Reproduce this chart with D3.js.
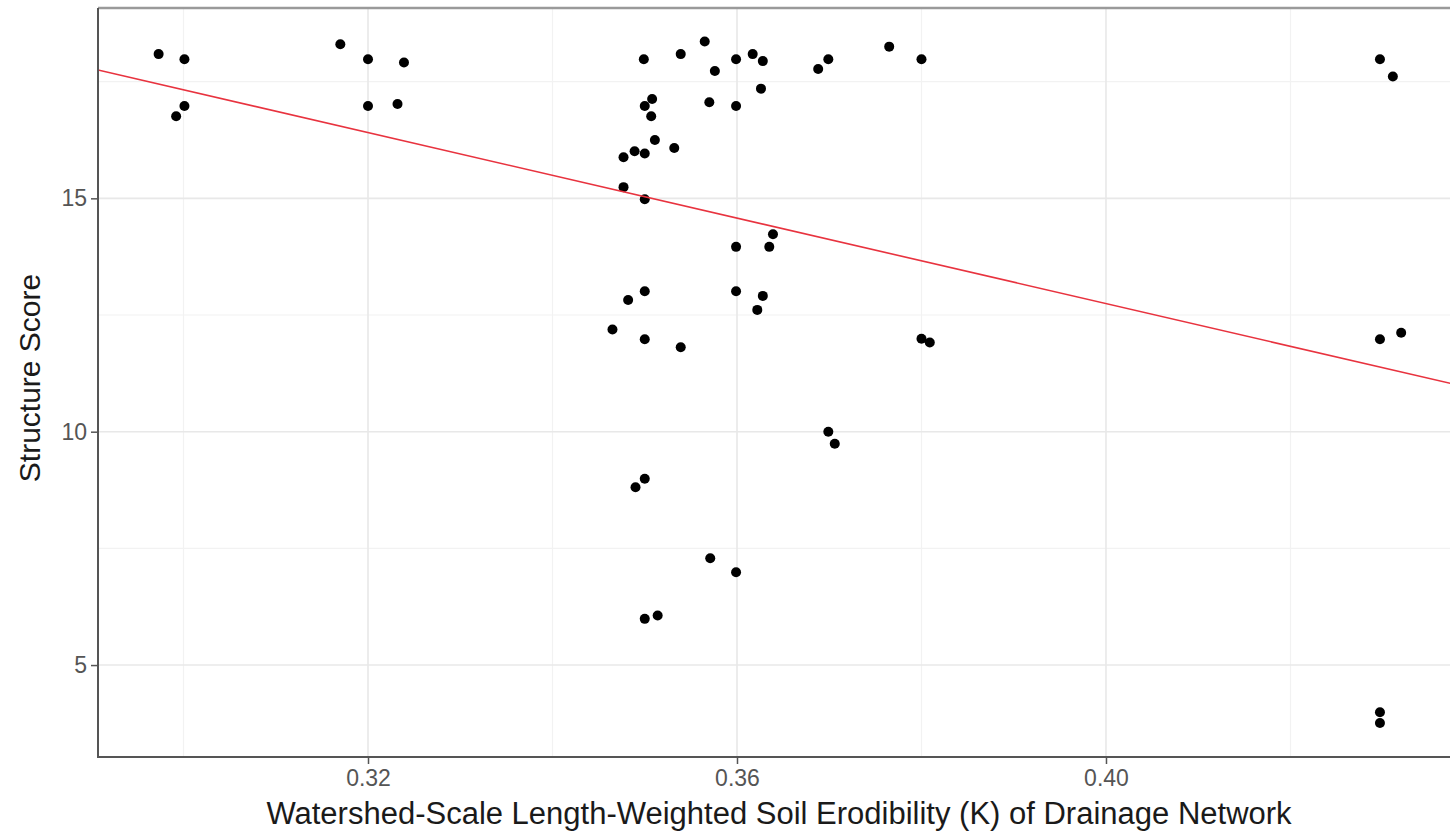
<!DOCTYPE html>
<html>
<head>
<meta charset="utf-8">
<script src="https://cdn.jsdelivr.net/npm/d3@7"></script>
<style>
    body { margin: 0; background: #ffffff; overflow: hidden; }
    .tick text { font-family: "Liberation Sans", Arial, sans-serif; }
</style>
</head>
<body>
<div id="chart"></div>
<script>
// erodibility (K)
const kValues = [
    0.2973, 0.3001, 0.3001, 0.2992, 0.3170, 0.3200, 0.3239, 0.3200, 0.3232,
    0.3499, 0.3539, 0.3565, 0.3576, 0.3599, 0.3617, 0.3628, 0.3626, 0.3688,
    0.3699, 0.3765, 0.3800, 0.4297, 0.4311, 0.3508, 0.3500, 0.3507, 0.3570,
    0.3599, 0.3511, 0.3532, 0.3489, 0.3500, 0.3477, 0.3477, 0.3500, 0.3639,
    0.3599, 0.3635, 0.3500, 0.3482, 0.3599, 0.3628, 0.3622, 0.3465, 0.3500,
    0.3539, 0.3800, 0.3809, 0.4297, 0.4320, 0.3699, 0.3706, 0.3500, 0.3490,
    0.3571, 0.3599, 0.3500, 0.3514, 0.4297, 0.4297
]

// structure score, same order
const scoreValues = [
    18.09, 17.98, 16.98, 16.76, 18.30, 17.98, 17.91, 16.98, 17.02,
    17.98, 18.09, 18.36, 17.73, 17.98, 18.09, 17.94, 17.35, 17.77,
    17.98, 18.25, 17.98, 17.98, 17.61, 17.13, 16.98, 16.76, 17.06,
    16.98, 16.25, 16.08, 16.01, 15.96, 15.88, 15.24, 14.98, 14.23,
    13.96, 13.96, 13.01, 12.82, 13.01, 12.91, 12.61, 12.19, 11.98,
    11.81, 11.99, 11.91, 11.98, 12.12, 10.00, 9.74, 8.99, 8.81,
    7.29, 6.99, 5.99, 6.06, 3.99, 3.76
]

// fitted line y = a + b * x
const fitIntercept = 31.065
const fitSlope = -45.8

const xTicks = [0.32, 0.36, 0.40]
const xMinor = [0.30, 0.34, 0.38, 0.42]
const yTicks = [5, 10, 15]
const yMinor = [7.5, 12.5, 17.5]

const chart = {
    width: 1450,
    height: 832,
    left: 98,
    top: 8,
    right: 1452,
    bottom: 757
}

const data = kValues.map((k, i) => ({ x: k, y: scoreValues[i] }))

const xScale = d3.scaleLinear()
    .domain([0.29073, 0.43751])
    .range([chart.left, chart.right])

const yScale = d3.scaleLinear()
    .domain([3.03, 19.078])
    .range([chart.bottom, chart.top])

const svg = d3.select("#chart")
    .append("svg")
    .attr("width", chart.width)
    .attr("height", chart.height)

svg.append("clipPath")
    .attr("id", "panelClip")
    .append("rect")
    .attr("x", chart.left)
    .attr("y", chart.top)
    .attr("width", chart.right - chart.left)
    .attr("height", chart.bottom - chart.top)

const panel = svg.append("g").attr("clip-path", "url(#panelClip)")

// minor grid first, then major
panel.selectAll(".xMinor")
    .data(xMinor)
    .enter().append("line")
    .attr("x1", d => xScale(d)).attr("x2", d => xScale(d))
    .attr("y1", chart.top).attr("y2", chart.bottom)
    .attr("stroke", "#f2f2f2").attr("stroke-width", 1.2)

panel.selectAll(".yMinor")
    .data(yMinor)
    .enter().append("line")
    .attr("y1", d => yScale(d)).attr("y2", d => yScale(d))
    .attr("x1", chart.left).attr("x2", chart.right)
    .attr("stroke", "#f2f2f2").attr("stroke-width", 1.2)

panel.selectAll(".xMajor")
    .data(xTicks)
    .enter().append("line")
    .attr("x1", d => xScale(d)).attr("x2", d => xScale(d))
    .attr("y1", chart.top).attr("y2", chart.bottom)
    .attr("stroke", "#e8e8e8").attr("stroke-width", 1.6)

panel.selectAll(".yMajor")
    .data(yTicks)
    .enter().append("line")
    .attr("y1", d => yScale(d)).attr("y2", d => yScale(d))
    .attr("x1", chart.left).attr("x2", chart.right)
    .attr("stroke", "#e8e8e8").attr("stroke-width", 1.6)

// points
panel.selectAll("circle")
    .data(data)
    .enter().append("circle")
    .attr("r", 5)
    .attr("cx", d => xScale(d.x))
    .attr("cy", d => yScale(d.y))
    .attr("fill", "#000000")

// regression line over the whole panel
const fitPoints = xScale.domain().map(x => ({ x: x, y: fitIntercept + fitSlope * x }))
const line = d3.line()
    .x(d => xScale(d.x))
    .y(d => yScale(d.y))

panel.append("path")
    .datum(fitPoints)
    .attr("d", line)
    .attr("fill", "none")
    .attr("stroke", "#e8333f")
    .attr("stroke-width", 1.6)

// panel border
svg.append("line")
    .attr("x1", chart.left).attr("x2", chart.right)
    .attr("y1", chart.top).attr("y2", chart.top)
    .attr("stroke", "#9a9a9a").attr("stroke-width", 2.5)
svg.append("line")
    .attr("x1", chart.left).attr("x2", chart.left)
    .attr("y1", chart.top).attr("y2", chart.bottom)
    .attr("stroke", "#555555").attr("stroke-width", 2)
svg.append("line")
    .attr("x1", chart.left - 1).attr("x2", chart.right)
    .attr("y1", chart.bottom).attr("y2", chart.bottom)
    .attr("stroke", "#555555").attr("stroke-width", 2)

// axes
const xAxis = svg.append("g")
    .attr("transform", `translate(0, ${chart.bottom})`)
    .call(d3.axisBottom(xScale).tickValues(xTicks).tickFormat(d3.format(".2f")).tickSize(7).tickPadding(6))

const yAxis = svg.append("g")
    .attr("transform", `translate(${chart.left}, 0)`)
    .call(d3.axisLeft(yScale).tickValues(yTicks).tickFormat(d3.format("d")).tickSize(7).tickPadding(4))

svg.selectAll(".domain").remove()
svg.selectAll(".tick line").attr("stroke", "#555555").attr("stroke-width", 1.5)
svg.selectAll(".tick text")
    .attr("fill", "#555555")
    .style("font-size", "23px")

// X axis label:
svg.append("text")
    .attr("text-anchor", "middle")
    .attr("x", 779)
    .attr("y", 824)
    .attr("fill", "#1a1a1a")
    .style("font-family", "'Liberation Sans', Arial, sans-serif")
    .style("font-size", "31px")
    .text("Watershed-Scale Length-Weighted Soil Erodibility (K) of Drainage Network")

// Y axis label:
svg.append("text")
    .attr("text-anchor", "middle")
    .attr("transform", "rotate(-90)")
    .attr("x", -378)
    .attr("y", 40)
    .attr("fill", "#1a1a1a")
    .style("font-family", "'Liberation Sans', Arial, sans-serif")
    .style("font-size", "30px")
    .text("Structure Score")
</script>
</body>
</html>
